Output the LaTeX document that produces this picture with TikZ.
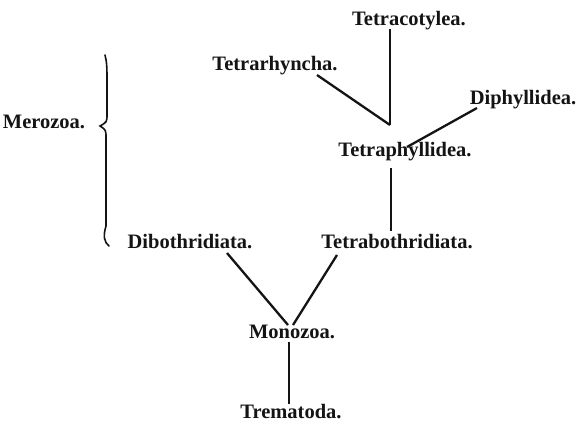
\documentclass[tikz,border=0pt]{standalone}
\usepackage{fontspec}
\setmainfont{Liberation Serif}
\begin{document}
\begin{tikzpicture}[x=1pt,y=-1pt,
  lbl/.style={font=\fontsize{20.5}{24}\selectfont\bfseries, inner sep=0pt, anchor=base, text=black!92},
  edge/.style={line width=2.3pt, black!92}]
\useasboundingbox[fill=white] (0,0) rectangle (580,424);
\node[lbl] (tc) at (409,25) {Tetracotylea.};
\node[lbl] (tr) at (275,70) {Tetrarhyncha.};
\node[lbl] (dp) at (523,104) {Diphyllidea.};
\node[lbl] (tp) at (405,156) {Tetraphyllidea.};
\node[lbl] (tb) at (397,248) {Tetrabothridiata.};
\node[lbl] (db) at (190,248) {Dibothridiata.};
\node[lbl] (mz) at (44,128) {Merozoa.};
\node[lbl] (mo) at (292,338) {Monozoa.};
\node[lbl] (tm) at (291,418) {Trematoda.};
\coordinate (tcB) at (390,29);
\coordinate (j1) at (390,125);
\coordinate (trE) at (317,75);
\coordinate (dpE) at (477,108);
\coordinate (tpE) at (407,147);
\coordinate (tpB) at (391,168);
\coordinate (tbT) at (391,231);
\coordinate (dbE) at (227,253);
\coordinate (tbE) at (337,255);
\coordinate (moL) at (288,325);
\coordinate (moR) at (293,325);
\coordinate (moB) at (289,342);
\coordinate (tmT) at (289,404);
\draw[edge] (tcB) -- (j1);
\draw[edge] (trE) -- (j1);
\draw[edge] (dpE) -- (tpE);
\draw[edge] (tpB) -- (tbT);
\draw[edge] (dbE) -- (moL);
\draw[edge] (tbE) -- (moR);
\draw[edge] (moB) -- (tmT);
% brace
\draw[line width=1.6pt, black!92, line cap=round]
  (105,55) .. controls (107,62) and (107,70) .. (107,80)
  -- (107,114) .. controls (107,122) .. (100,126)
  .. controls (106,130) .. (106,138)
  -- (106,226) .. controls (103,236) and (104,242) .. (109,246);
\end{tikzpicture}
\end{document}
